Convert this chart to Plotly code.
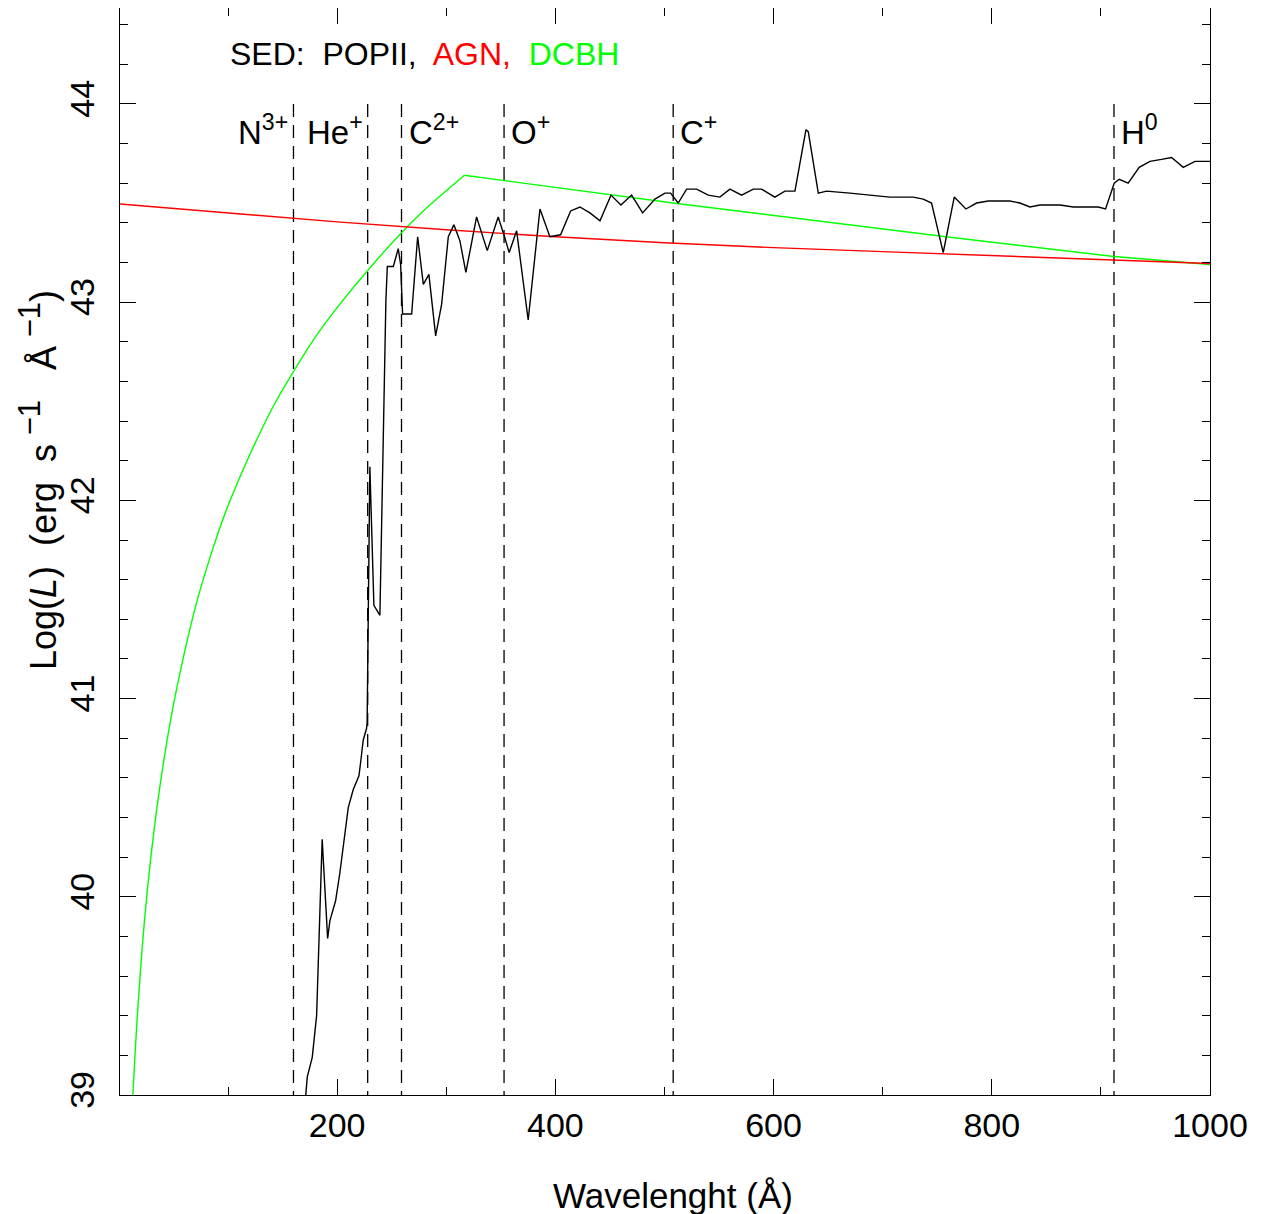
import plotly.graph_objects as go

# POPII stellar SED (black)
popii_wl = [171.0, 172.6, 177.2, 181.2, 186.3, 191.3, 193.4, 198.6, 202.5, 206.5,
            210.2, 214.7, 220.0, 221.8, 223.9, 227.0, 227.5, 230.0, 233.7, 239.2,
            244.7, 246.0, 251.5, 256.0, 258.2, 260.0, 268.3, 273.8, 279.0, 284.1,
            290.3, 295.8, 301.9, 307.0, 312.5, 318.0, 327.8, 337.6, 347.6, 352.9,
            357.7, 364.5, 375.1, 385.9, 395.0, 404.8, 414.0, 422.5, 431.7, 440.9,
            451.0, 460.1, 469.9, 480.0, 491.3, 500.4, 505.6, 512.6, 520.3, 529.5,
            540.1, 550.8, 560.0, 570.7, 581.4, 589.0, 601.2, 610.4, 619.6, 629.7,
            631.8, 641.0, 648.6, 670.0, 688.3, 706.6, 728.0, 737.2, 744.8, 755.5,
            765.6, 776.3, 786.1, 796.7, 816.6, 825.8, 835.0, 844.1, 862.5, 874.7,
            887.0, 897.6, 904.3, 912.2, 916.8, 925.0, 935.1, 945.0, 955.6, 964.8,
            975.5, 986.2, 993.8, 1000.0]
popii_logl = [38.98, 39.09, 39.19, 39.40, 40.29, 39.79, 39.88, 39.98, 40.12, 40.30,
              40.45, 40.54, 40.61, 40.69, 40.79, 40.85, 40.88, 42.17, 41.47, 41.42,
              43.01, 43.18, 43.18, 43.27, 43.19, 42.94, 42.94, 43.33, 43.09, 43.14,
              42.83, 42.99, 43.33, 43.39, 43.31, 43.15, 43.43, 43.26, 43.43, 43.34,
              43.25, 43.36, 42.91, 43.47, 43.33, 43.34, 43.46, 43.48, 43.45, 43.41,
              43.54, 43.49, 43.54, 43.45, 43.52, 43.55, 43.55, 43.50, 43.57, 43.57,
              43.54, 43.53, 43.57, 43.54, 43.57, 43.57, 43.53, 43.56, 43.56, 43.87,
              43.86, 43.55, 43.56, 43.55, 43.54, 43.53, 43.53, 43.52, 43.50, 43.25,
              43.53, 43.47, 43.50, 43.51, 43.51, 43.50, 43.48, 43.49, 43.49, 43.48,
              43.48, 43.48, 43.47, 43.60, 43.62, 43.60, 43.68, 43.71, 43.72, 43.73,
              43.68, 43.71, 43.71, 43.71]

# AGN (red)
agn_wl = [1, 100, 200, 300, 400, 500, 600, 700, 800, 900, 1000]
agn_logl = [43.495, 43.45, 43.405, 43.365, 43.33, 43.30, 43.275, 43.255, 43.235, 43.215, 43.195]

# DCBH (green)
dcbh_wl = [12.8, 16.8, 24.1, 34.6, 47.0, 56.0, 71.0, 83.4, 97.0, 108.0,
           127.5, 143.0, 160.0, 182.0, 204.0, 228.0, 259.0, 279.0, 316.6, 508.0,
           758.0, 912.0, 1000.0]
dcbh_logl = [39.0, 39.39, 39.92, 40.44, 40.88, 41.13, 41.48, 41.71, 41.93, 42.08,
             42.32, 42.49, 42.65, 42.84, 43.0, 43.16, 43.35, 43.46, 43.64, 43.50,
             43.33, 43.23, 43.19]

# ionisation edges
edge_wl = [160, 228, 259, 353, 508, 912]
edge_labels = ["N<sup>3+</sup>", "He<sup>+</sup>", "C<sup>2+</sup>",
               "O<sup>+</sup>", "C<sup>+</sup>", "H<sup>0</sup>"]

FONT = "Liberation Sans, Arial, sans-serif"

fig = go.Figure()

ex, ey = [], []
for w in edge_wl:
    ex += [w, w, None]
    ey += [44, 39, None]
fig.add_trace(go.Scatter(x=ex, y=ey, mode='lines',
                         line=dict(color='black', width=1.3, dash='13px,8px')))

# DCBH: smooth rise up to the peak, then straight decline
pk = dcbh_logl.index(max(dcbh_logl))
fig.add_trace(go.Scatter(x=dcbh_wl[:pk + 1], y=dcbh_logl[:pk + 1], mode='lines',
                         line=dict(color='#00ff00', width=1.4, shape='spline', smoothing=0.8)))
fig.add_trace(go.Scatter(x=dcbh_wl[pk:], y=dcbh_logl[pk:], mode='lines',
                         line=dict(color='#00ff00', width=1.4)))
fig.add_trace(go.Scatter(x=agn_wl, y=agn_logl, mode='lines',
                         line=dict(color='#ff0000', width=1.4)))
fig.add_trace(go.Scatter(x=popii_wl, y=popii_logl, mode='lines',
                         line=dict(color='black', width=1.4)))

for i, (w, lab) in enumerate(zip(edge_wl, edge_labels)):
    fig.add_annotation(x=w, y=43.87, text=lab, showarrow=False,
                       xanchor='right' if i < 2 else 'left',
                       xshift=-3 if i < 2 else 5, yanchor='middle',
                       font=dict(size=33, family=FONT, color='black'))

fig.add_annotation(xref='paper', yref='paper', x=0.099, y=0.9577,
                   xanchor='left', yanchor='middle', showarrow=False,
                   text="SED:&nbsp; POPII,&nbsp; <span style='color:#ff0000'>AGN,</span>&nbsp; "
                        "<span style='color:#00ff00'>DCBH</span>",
                   font=dict(size=32, family=FONT, color='black'))

fig.add_annotation(xref='paper', yref='paper', x=0.507, y=-0.092,
                   xanchor='center', yanchor='middle', showarrow=False,
                   text="Wavelenght (Å)",
                   font=dict(size=35, family=FONT, color='black'))
fig.add_annotation(xref='paper', yref='paper', x=-0.075, y=0.566,
                   xanchor='center', yanchor='middle', showarrow=False, textangle=-90,
                   text="Log(<i>L</i>)&nbsp; (erg&nbsp; s<sup><span style='font-size:31px'>&nbsp;−1</span></sup>"
                        "&nbsp;&nbsp; Å<sup><span style='font-size:31px'>&nbsp;−1</span></sup>)",
                   font=dict(size=36, family=FONT, color='black'))

axis_common = dict(showline=True, linecolor='black', linewidth=1.3, mirror='ticks',
                   ticks='inside', ticklen=16, tickwidth=1.3, tickcolor='black',
                   showgrid=False, zeroline=False,
                   tickfont=dict(size=34, family=FONT, color='black'))

fig.update_xaxes(range=[1, 1000], tickvals=[200, 400, 600, 800, 1000],
                 minor=dict(tickvals=[100, 300, 500, 700, 900], ticks='inside',
                            ticklen=8, tickwidth=1.3, tickcolor='black'),
                 ticklabelstandoff=0, **axis_common)
fig.update_yaxes(range=[39, 44.484], tickvals=[39, 40, 41, 42, 43, 44], tickangle=-90,
                 minor=dict(dtick=0.2, ticks='inside', ticklen=8, tickwidth=1.3,
                            tickcolor='black'),
                 ticklabelstandoff=11, **axis_common)

# the page body adds an 8px offset, so the figure is sized to fit the window
fig.update_layout(width=1257, height=1206, showlegend=False,
                  margin=dict(l=112, r=55, t=0, b=119),
                  plot_bgcolor='white', paper_bgcolor='white')

fig.write_html("out.html")
